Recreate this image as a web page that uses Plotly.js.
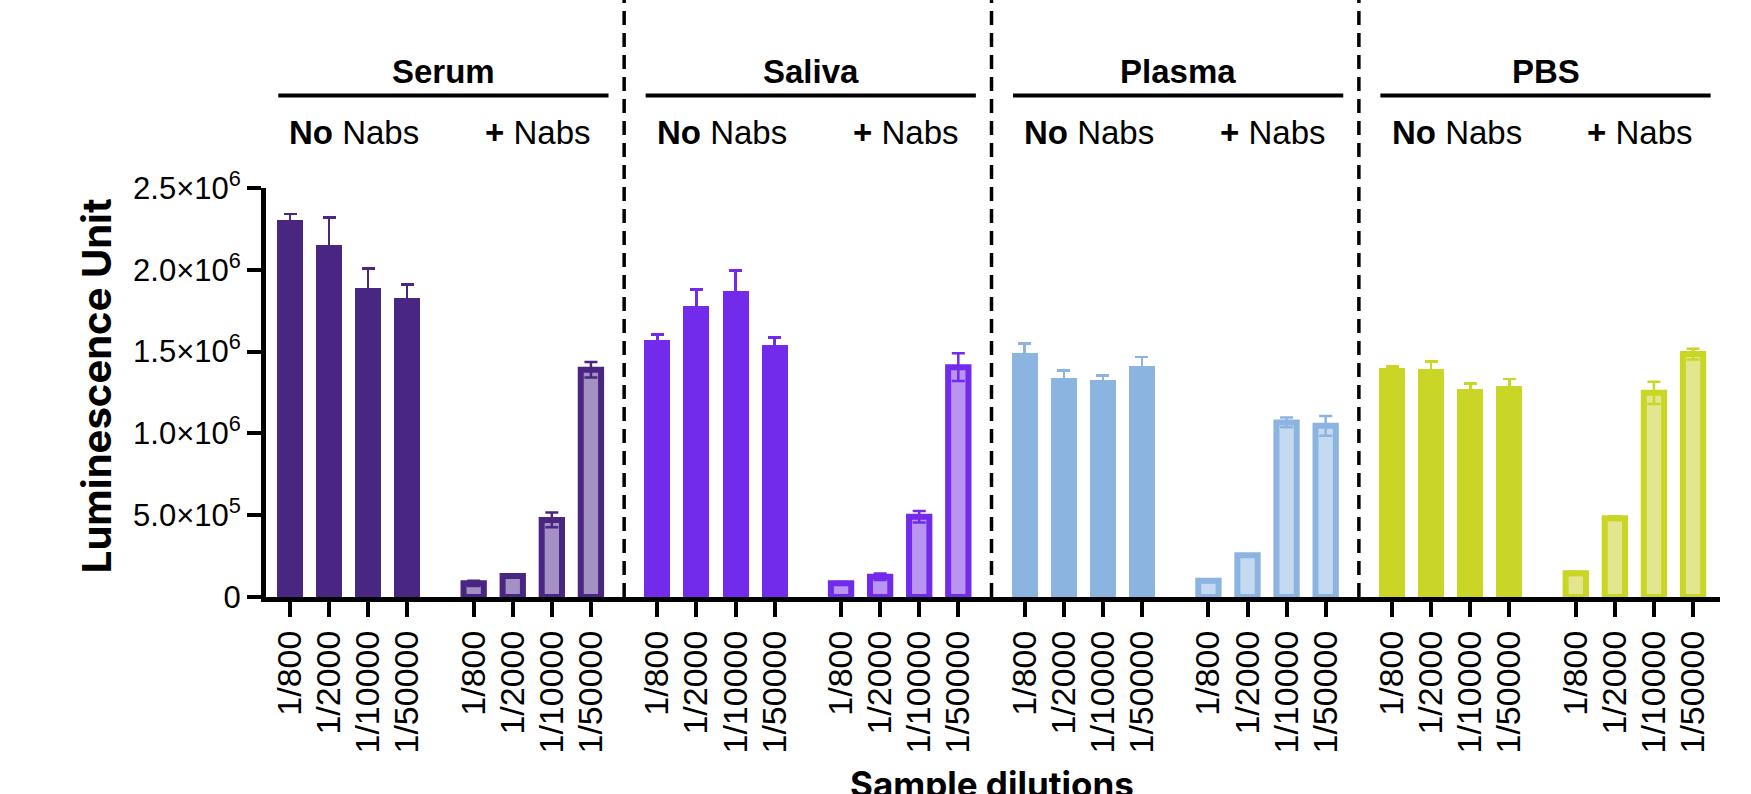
<!DOCTYPE html>
<html>
<head>
<meta charset="utf-8">
<script src="https://cdn.plot.ly/plotly-3.0.1.min.js"></script>
<style>
  html, body { margin: 0; padding: 0; background: #ffffff; }
  #chart { width: 1751px; height: 794px; }
</style>
</head>
<body>
<div id="chart"></div>
<script>
// ---------- data ----------
const dilutions = ['1/800', '1/2000', '1/10000', '1/50000'];
const samples = ['Serum', 'Saliva', 'Plasma', 'PBS'];
const treatments = ['<b>No</b> Nabs', '<b>+</b> Nabs'];

const serumNoNabs   = [2.307e6, 2.154e6, 1.889e6, 1.828e6];
const serumNoNabsSD = [0.035e6, 0.165e6, 0.118e6, 0.081e6];
const serumNabs     = [0.084e6, 0.128e6, 0.471e6, 1.389e6];
const serumNabsSD   = [0.016e6, 0.006e6, 0.045e6, 0.047e6];

const salivaNoNabs   = [1.569e6, 1.781e6, 1.869e6, 1.538e6];
const salivaNoNabsSD = [0.036e6, 0.100e6, 0.128e6, 0.047e6];
const salivaNabs     = [0.084e6, 0.124e6, 0.491e6, 1.405e6];
const salivaNabsSD   = [0.008e6, 0.020e6, 0.035e6, 0.085e6];

const plasmaNoNabs   = [1.491e6, 1.338e6, 1.328e6, 1.410e6];
const plasmaNoNabsSD = [0.060e6, 0.045e6, 0.025e6, 0.057e6];
const plasmaNabs     = [0.100e6, 0.255e6, 1.067e6, 1.046e6];
const plasmaNabsSD   = [0.008e6, 0.006e6, 0.030e6, 0.061e6];

const pbsNoNabs   = [1.401e6, 1.393e6, 1.271e6, 1.287e6];
const pbsNoNabsSD = [0.008e6, 0.047e6, 0.035e6, 0.047e6];
const pbsNabs     = [0.145e6, 0.482e6, 1.248e6, 1.485e6];
const pbsNabsSD   = [0.010e6, 0.012e6, 0.068e6, 0.033e6];

const yTickVals = [0, 0.5e6, 1.0e6, 1.5e6, 2.0e6, 2.5e6];
const yTickText = ['0', '5.0×10<sup>5</sup>', '1.0×10<sup>6</sup>', '1.5×10<sup>6</sup>', '2.0×10<sup>6</sup>', '2.5×10<sup>6</sup>'];

// ---------- styles ----------
const darkColors  = ['#4A2683', '#722AEB', '#8BB4E1', '#C9D626'];
const lightColors = ['#A291C2', '#B895F2', '#C5DAF1', '#E2E78F'];

const seriesValues = [
  [serumNoNabs, serumNabs], [salivaNoNabs, salivaNabs],
  [plasmaNoNabs, plasmaNabs], [pbsNoNabs, pbsNabs]
];
const seriesErrors = [
  [serumNoNabsSD, serumNabsSD], [salivaNoNabsSD, salivaNabsSD],
  [plasmaNoNabsSD, plasmaNabsSD], [pbsNoNabsSD, pbsNabsSD]
];

const SUB = 4.7;           // spacing between subgroup starts (axis units)
const tickFont = 'Liberation Sans, Arial, sans-serif';
const titleFont = 'Inter, Roboto, sans-serif';

const traces = [];
const tickVals = [];
const tickText = [];
samples.forEach((s, si) => {
  [0, 1].forEach(ti => {
    const start = (2 * si + ti) * SUB;
    const xs = dilutions.map((d, j) => start + j);
    xs.forEach((x, j) => { tickVals.push(x); tickText.push(dilutions[j]); });
    const outlined = ti === 1;
    traces.push({
      type: 'bar',
      name: s + ' ' + treatments[ti],
      x: xs,
      y: seriesValues[si][ti],
      width: outlined ? 0.52 : 0.665,
      marker: {
        color: outlined ? lightColors[si] : darkColors[si],
        line: { color: darkColors[si], width: outlined ? 6 : 0 }
      },
      error_y: {
        type: 'data', array: seriesErrors[si][ti], visible: true,
        color: darkColors[si], thickness: 2.5, width: 6.5
      },
      hoverinfo: 'x+y'
    });
  });
});

// ---------- decorations ----------
const shapes = [];
const annotations = [];
const titleY = 1.286, lineY = 1.2264, subY = 1.136;
samples.forEach((s, si) => {
  const gStart = si * 2 * SUB;
  shapes.push({
    type: 'line', xref: 'x', yref: 'paper',
    x0: gStart - 0.3, x1: gStart + 8.15, y0: lineY, y1: lineY,
    line: { color: '#000', width: 4 }
  });
  annotations.push({
    xref: 'x', yref: 'paper', x: gStart + 3.93, y: titleY,
    text: '<b>' + s + '</b>', showarrow: false,
    xanchor: 'center', yanchor: 'middle',
    font: { family: tickFont, size: 33, color: '#000' }
  });
  [0, 1].forEach(ti => {
    annotations.push({
      xref: 'x', yref: 'paper', x: (2 * si + ti) * SUB + 1.65, y: subY,
      text: treatments[ti], showarrow: false,
      xanchor: 'center', yanchor: 'middle',
      font: { family: tickFont, size: 33, color: '#000' }
    });
  });
  if (si < samples.length - 1) {
    const sepX = gStart + SUB + 3 + (SUB - 3) / 2;
    shapes.push({
      type: 'line', xref: 'x', yref: 'paper',
      x0: sepX, x1: sepX,
      y0: 0, y1: 1.47,
      line: { color: '#000', width: 3.5, dash: '14px,8px' }
    });
  }
});

annotations.push({
  xref: 'paper', yref: 'paper', x: -0.1165, y: 0.517,
  text: '<b>Luminescence Unit</b>', textangle: -90, showarrow: false,
  xanchor: 'center', yanchor: 'middle',
  font: { family: titleFont, size: 40, color: '#000' }
});
annotations.push({
  xref: 'paper', yref: 'paper', x: 0.499, y: -0.402,
  text: '<b>Sample dilutions</b>', showarrow: false,
  xanchor: 'center', yanchor: 'top',
  font: { family: titleFont, size: 35, color: '#000' }
});

const layout = {
  width: 1751, height: 794,
  margin: { l: 266, r: 31, t: 188, b: 197, pad: 0 },
  paper_bgcolor: '#ffffff', plot_bgcolor: '#ffffff',
  showlegend: false,
  bargap: 0,
  xaxis: {
    type: 'linear',
    range: [-0.614, 36.59],
    tickmode: 'array', tickvals: tickVals, ticktext: tickText,
    tickangle: -90,
    ticks: 'outside', ticklen: 15, tickwidth: 4, tickcolor: '#000',
    showline: true, linecolor: '#000', linewidth: 5,
    showgrid: false, zeroline: false,
    tickfont: { family: tickFont, size: 34, color: '#000' }
  },
  yaxis: {
    range: [0, 2.5e6],
    tickmode: 'array', tickvals: yTickVals, ticktext: yTickText,
    ticks: 'outside', ticklen: 14, tickwidth: 4, tickcolor: '#000',
    showline: true, linecolor: '#000', linewidth: 5,
    showgrid: false, zeroline: false,
    tickfont: { family: tickFont, size: 31, color: '#000' }
  },
  shapes: shapes,
  annotations: annotations
};

Plotly.newPlot('chart', traces, layout, { displayModeBar: false, staticPlot: true });
</script>
</body>
</html>
